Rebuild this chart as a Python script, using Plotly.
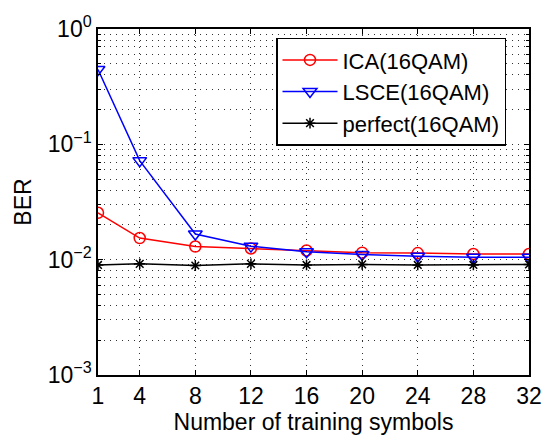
import plotly.graph_objects as go

x_vals = [1, 4, 8, 12, 16, 20, 24, 28, 32]
ica = [0.0255, 0.0154, 0.0130, 0.0125, 0.0120, 0.0115, 0.0114, 0.0112, 0.0112]
lsce = [0.446, 0.0722, 0.0167, 0.0131, 0.0117, 0.0111, 0.0107, 0.0105, 0.0105]
perfect = [0.0090, 0.0092, 0.0089, 0.0092, 0.0090, 0.0091, 0.0090, 0.0090, 0.0091]
y_tickvals = [1e-3, 1e-2, 1e-1, 1]
y_ticktext = ["10<sup>−3</sup>", "10<sup>−2</sup>", "10<sup>−1</sup>", "10<sup>0</sup>"]

FONT = "Liberation Sans, Arial, sans-serif"
FS = 23

fig = go.Figure()
fig.add_trace(go.Scatter(x=x_vals, y=ica, mode="lines+markers", name="ICA(16QAM)",
                         line=dict(color="#ff0000", width=1.5),
                         marker=dict(symbol="circle-open", size=11, color="#ff0000",
                                     line=dict(width=1.5, color="#ff0000"))))
fig.add_trace(go.Scatter(x=x_vals, y=lsce, mode="lines+markers", name="LSCE(16QAM)",
                         line=dict(color="#0000ff", width=1.5),
                         marker=dict(symbol="triangle-down-open", size=12, color="#0000ff",
                                     line=dict(width=1.5, color="#0000ff"))))
fig.add_trace(go.Scatter(x=x_vals, y=perfect, mode="lines+markers", name="perfect(16QAM)",
                         line=dict(color="#000000", width=1.5),
                         marker=dict(symbol="asterisk-open", size=9, color="#000000",
                                     line=dict(width=1.5, color="#000000"))))

grid_common = dict(gridcolor="#333333", griddash="1px,5px", gridwidth=1)

fig.update_layout(
    width=554, height=437,
    margin=dict(l=98, r=23, t=25, b=58),
    paper_bgcolor="white", plot_bgcolor="white",
    font=dict(family=FONT, size=FS, color="black"),
    showlegend=True,
    legend=dict(x=0.413, y=0.975, xanchor="left", yanchor="top",
                bgcolor="white", bordercolor="black", borderwidth=1.5,
                font=dict(family=FONT, size=22), tracegroupgap=0,
                itemwidth=55),
    xaxis=dict(
        range=[1, 32], tickmode="array", tickvals=x_vals,
        ticktext=[str(v) for v in x_vals],
        tickfont=dict(size=FS),
        showline=True, linecolor="black", linewidth=1.5, mirror="ticks",
        ticks="inside", ticklen=5, tickcolor="black",
        showgrid=True, zeroline=False,
        title=dict(text="Number of training symbols", standoff=0, font=dict(size=FS)),
        **grid_common,
    ),
    yaxis=dict(
        type="log", range=[-3, 0], tickmode="array", tickvals=y_tickvals,
        ticktext=y_ticktext,
        tickfont=dict(size=FS),
        showline=True, linecolor="black", linewidth=1.5, mirror="ticks",
        ticks="inside", ticklen=5, tickcolor="black",
        showgrid=True, zeroline=False,
        minor=dict(tickmode="array",
                   tickvals=[m * 10 ** e for e in (-3, -2, -1) for m in range(2, 10)],
                   ticks="inside", ticklen=3, tickcolor="black",
                   showgrid=True, **grid_common),
        title=dict(text="BER", standoff=10, font=dict(size=FS)),
        **grid_common,
    ),
)

fig.write_html("out.html")
